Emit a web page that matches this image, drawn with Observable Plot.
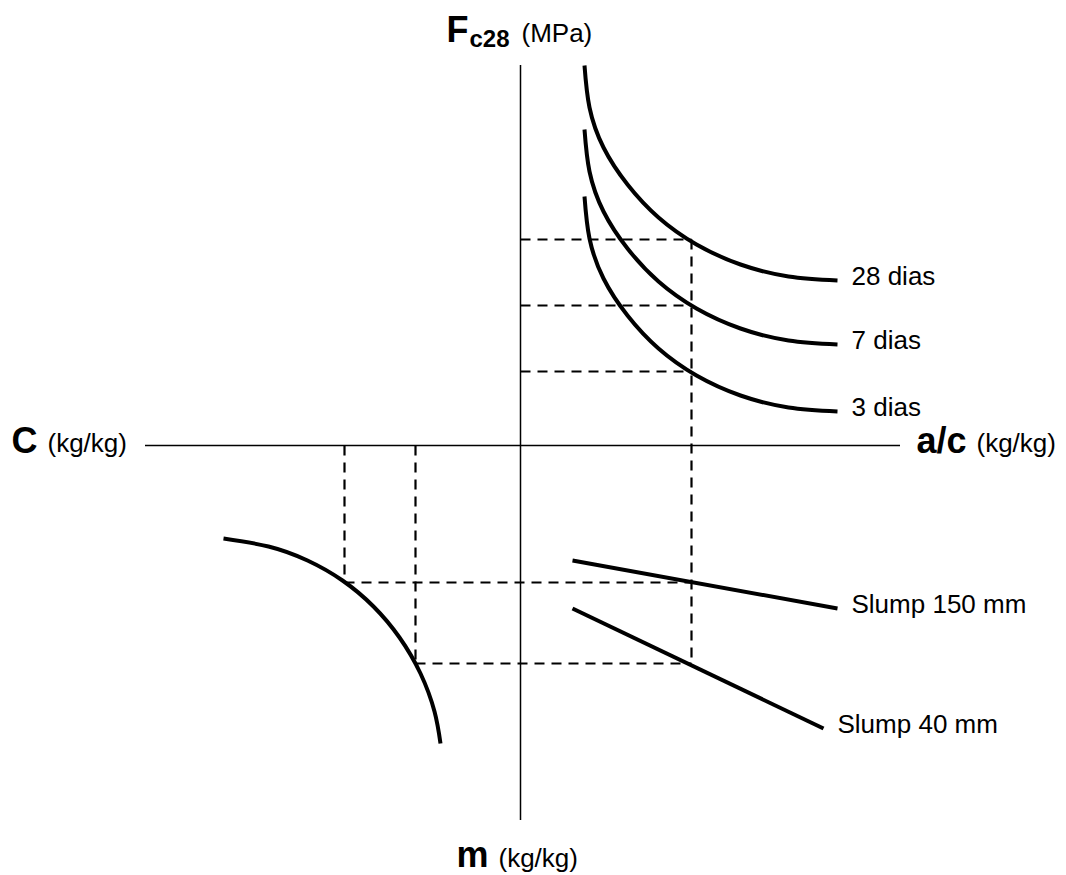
<!DOCTYPE html>
<html><head><meta charset="utf-8">
<script src="https://cdn.jsdelivr.net/npm/d3@7"></script>
<script src="https://cdn.jsdelivr.net/npm/@observablehq/plot@0.6"></script>
<style>
body{margin:0;background:#fff;}
#chart svg{display:block;}
</style>
</head><body><div id="chart"></div>
<script>
// Diagram units: origin at the crossing of the axes.
// right = a/c, left = C, up = Fc28, down = m

// Quadrant I: strength (Abrams) curves
const strengthAges = ["28 dias", "7 dias", "3 dias"];
const strengthX  = [64, 69, 83, 107, 138, 176, 220, 268, 317];
const strength28 = [380, 338, 298, 261, 228, 201, 181, 169, 165];
const strength7  = [316, 274, 234, 197, 164, 137, 117, 105, 101];
const strength3  = [249, 207, 167, 130, 97, 70, 50, 38, 34];

// Quadrant IV: slump (Lyse) lines
const slumpLabels = ["Slump 150 mm", "Slump 40 mm"];
const slump150X = [52, 317];
const slump150Y = [-115, -163];
const slump40X = [52, 303];
const slump40Y = [-163, -283];

// Quadrant III: cement consumption (Molinari) curve
const cementX = [-297, -252, -213, -178, -147, -121, -100, -86, -80];
const cementY = [-93, -101, -115, -135, -161, -192, -228, -266, -298];

// Reading path (dashed guides)
const acRead = 171;
const strengthRead = [206, 140, 74];
const mRead = [-137, -218];
const cRead = [-176, -105];

// Axis extents
const axisMin = -375;
const axisMax = 380;

// ---- build tables ----
const strengthSeries = [strength28, strength7, strength3];
const strengthRows = strengthSeries.flatMap((ys, k) =>
  ys.map((y, i) => ({series: strengthAges[k], x: strengthX[i], y})));
const strengthEnds = strengthSeries.map((ys, k) =>
  ({label: strengthAges[k], x: strengthX[strengthX.length - 1], y: ys[ys.length - 1]}));

const slumpSeries = [[slump150X, slump150Y], [slump40X, slump40Y]];
const slumpRows = slumpSeries.flatMap(([xs, ys], k) =>
  xs.map((x, i) => ({series: slumpLabels[k], x, y: ys[i]})));
const slumpEnds = slumpSeries.map(([xs, ys], k) =>
  ({label: slumpLabels[k], x: xs[xs.length - 1], y: ys[ys.length - 1]}));

const cementRows = cementX.map((x, i) => ({x, y: cementY[i]}));

const guides = [
  ...strengthRead.map(s => ({x1: 0, y1: s, x2: acRead, y2: s})),
  {x1: acRead, y1: strengthRead[0], x2: acRead, y2: mRead[1]},
  {x1: cRead[0], y1: mRead[0], x2: acRead, y2: mRead[0]},
  {x1: cRead[1], y1: mRead[1], x2: acRead, y2: mRead[1]},
  {x1: cRead[0], y1: 0, x2: cRead[0], y2: mRead[0]},
  {x1: cRead[1], y1: 0, x2: cRead[1], y2: mRead[1]}
];

const font = "'Liberation Sans', Arial, Helvetica, sans-serif";
const t = (txt, dx, dy, size, weight) => Plot.text([txt], {
  text: d => d, frameAnchor: "top-left", dx, dy, textAnchor: "start",
  lineAnchor: "bottom", fontSize: size, fontWeight: weight, fill: "black"
});

const chart = Plot.plot({
  width: 1066,
  height: 875,
  margin: 0,
  style: {fontFamily: font, background: "white"},
  x: {domain: [-520, 546], axis: null},
  y: {domain: [-430, 445], axis: null},
  marks: [
    Plot.ruleY([0], {x1: axisMin, x2: axisMax, stroke: "black", strokeWidth: 1.5}),
    Plot.ruleX([0], {y1: axisMin, y2: axisMax, stroke: "black", strokeWidth: 1.5}),
    Plot.link(guides, {x1: "x1", y1: "y1", x2: "x2", y2: "y2", stroke: "black",
      strokeWidth: 2.2, strokeDasharray: "10,7"}),
    Plot.line(strengthRows, {x: "x", y: "y", z: "series", curve: "natural",
      stroke: "black", strokeWidth: 4, strokeLinecap: "butt"}),
    Plot.line(slumpRows, {x: "x", y: "y", z: "series",
      stroke: "black", strokeWidth: 4, strokeLinecap: "butt"}),
    Plot.line(cementRows, {x: "x", y: "y", curve: "natural",
      stroke: "black", strokeWidth: 4, strokeLinecap: "butt"}),
    Plot.text(strengthEnds, {x: "x", y: "y", text: "label", dx: 14, dy: -4,
      textAnchor: "start", fontSize: 26, fill: "black"}),
    Plot.text(slumpEnds, {x: "x", y: "y", text: "label", dx: 14, dy: -4,
      textAnchor: "start", fontSize: 26, fill: "black"}),
    // axis titles
    t("F", 446, 41, 36, "bold"),
    t("c28", 469, 46, 24, "bold"),
    t("(MPa)", 521, 41, 26, "normal"),
    t("C", 11, 452, 36, "bold"),
    t("(kg/kg)", 47, 451, 26, "normal"),
    t("a/c", 916, 452, 36, "bold"),
    t("(kg/kg)", 976, 451, 26, "normal"),
    t("m", 456, 866, 36, "bold"),
    t("(kg/kg)", 498, 866, 26, "normal")
  ]
});
document.getElementById("chart").append(chart);
</script>
</body></html>
